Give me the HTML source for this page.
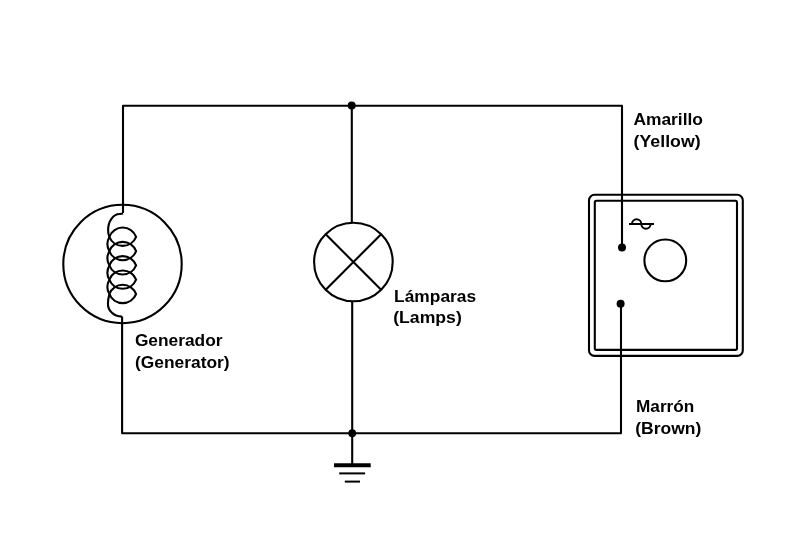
<!DOCTYPE html>
<html><head><meta charset="utf-8">
<style>
html,body{margin:0;padding:0;background:#fff;width:800px;height:533px;overflow:hidden}
svg{position:absolute;left:0;top:0;will-change:transform}
text{font-family:"Liberation Sans",sans-serif;font-weight:bold;font-size:17px;fill:#000}
</style></head><body>
<svg width="800" height="533" viewBox="0 0 800 533">
<g fill="none" stroke="#000" stroke-width="2.1" stroke-linecap="butt" stroke-linejoin="round">
<!-- top wire -->
<polyline points="123,213 123,105.8 622,105.8 622,247.6"/>
<!-- bottom wire -->
<polyline points="621,303.8 621,433.2 122.1,433.2 122.1,316.6"/>
<!-- middle wire -->
<line x1="351.8" y1="105.8" x2="351.8" y2="222.8"/>
<line x1="352.2" y1="301" x2="352.2" y2="464"/>
<!-- generator circle -->
<circle cx="122.5" cy="264" r="59.2"/>
<!-- coil -->
<path d="M123,213.5 L120,214 A11.6,16 0 0 0 108.1,230 Q108.1,234 109.4,236.90 A14.40,14.40 0 0 0 109.4,251.20 A14.40,14.40 0 0 0 109.4,265.50 A14.40,14.40 0 0 0 109.4,279.80 A14.40,14.40 0 0 0 109.4,294.10 Q108,299.10 108,303.10 A13.7,12.6 0 0 0 121.7,316.6 L122.1,316.6"/>
<g id="loops">
<path d="M109.3,236.80 A14.33,14.33 0 0 1 136.1,236.80 A14.42,14.42 0 0 1 109.3,236.80"/>
<path d="M109.3,251.10 A14.33,14.33 0 0 1 136.1,251.10 A14.42,14.42 0 0 1 109.3,251.10"/>
<path d="M109.3,265.40 A14.33,14.33 0 0 1 136.1,265.40 A14.42,14.42 0 0 1 109.3,265.40"/>
<path d="M109.3,279.70 A14.33,14.33 0 0 1 136.1,279.70 A14.42,14.42 0 0 1 109.3,279.70"/>
<path d="M109.3,294.00 A14.33,14.33 0 0 1 136.1,294.00 A14.42,14.42 0 0 1 109.3,294.00"/>
</g>
<!-- lamp -->
<circle cx="353.4" cy="262" r="39.3"/>
<line x1="325.7" y1="234.3" x2="381.1" y2="289.7"/>
<line x1="381.1" y1="234.3" x2="325.7" y2="289.7"/>
<!-- device box -->
<rect x="589" y="194.8" width="153.8" height="161.1" rx="5.5"/>
<rect x="594.8" y="200.8" width="142.2" height="149.1" rx="1.6"/>
<circle cx="665.3" cy="260.4" r="20.9"/>
<!-- wave -->
<line x1="629" y1="224" x2="654" y2="224" stroke-width="2"/>
<path d="M632,224 A4.65,4.65 0 0 1 641.3,224 A4.65,4.65 0 0 0 650.6,224" stroke-width="2"/>
<!-- ground -->
<line x1="334" y1="465.2" x2="370.7" y2="465.2" stroke-width="4"/>
<line x1="339.2" y1="473.4" x2="365.1" y2="473.4" stroke-width="2"/>
<line x1="344.8" y1="481.6" x2="360" y2="481.6" stroke-width="2"/>
</g>
<g fill="#000">
<circle cx="351.7" cy="105.5" r="4"/>
<circle cx="352.2" cy="433.2" r="3.9"/>
<circle cx="622" cy="247.6" r="4"/>
<circle cx="620.6" cy="303.8" r="4"/>
</g>
<text x="633.4" y="124.8" textLength="69.6" lengthAdjust="spacingAndGlyphs">Amarillo</text>
<text x="633.6" y="146.6" textLength="67" lengthAdjust="spacingAndGlyphs">(Yellow)</text>
<text x="134.9" y="346.2" textLength="87.6" lengthAdjust="spacingAndGlyphs">Generador</text>
<text x="135" y="367.7" textLength="94.6" lengthAdjust="spacingAndGlyphs">(Generator)</text>
<text x="394.1" y="301.8" textLength="82" lengthAdjust="spacingAndGlyphs">Lámparas</text>
<text x="393.2" y="322.6" textLength="68.6" lengthAdjust="spacingAndGlyphs">(Lamps)</text>
<text x="636" y="411.9" textLength="58.3" lengthAdjust="spacingAndGlyphs">Marrón</text>
<text x="635.2" y="433.5" textLength="66.1" lengthAdjust="spacingAndGlyphs">(Brown)</text>
</svg>
</body></html>
